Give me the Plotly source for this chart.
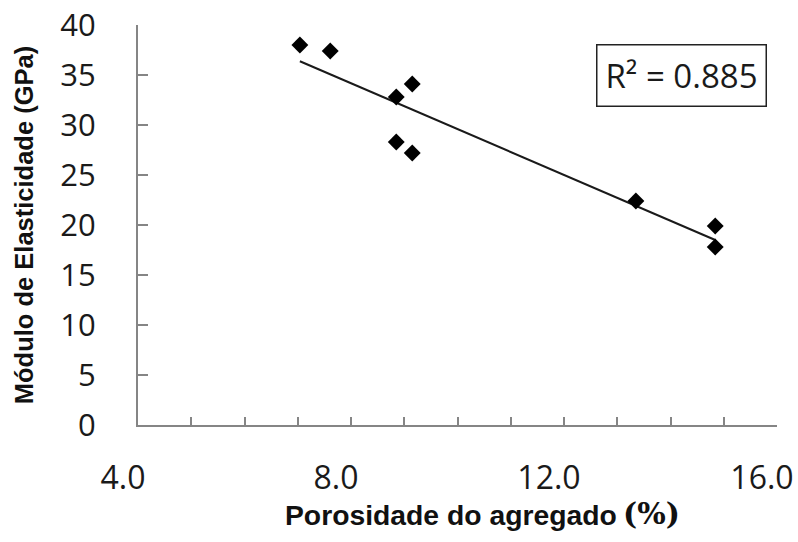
import numpy as np
import plotly.graph_objects as go

# Data
porosidade = [7.04, 7.61, 8.85, 9.15, 8.85, 9.15, 13.35, 14.84, 14.84]
modulo = [38.0, 37.4, 32.8, 34.1, 28.3, 27.2, 22.4, 19.9, 17.8]
x_ticks = [4.0, 8.0, 12.0, 16.0]
y_ticks = [0, 5, 10, 15, 20, 25, 30, 35, 40]
r2_label = "R² = 0.885"

# Linear trend line (least squares)
slope, intercept = np.polyfit(porosidade, modulo, 1)
x_fit = np.array([min(porosidade), max(porosidade)])
y_fit = slope * x_fit + intercept

TICK_FONT = "Open Sans, sans-serif"
AXIS_COLOR = "#858585"

fig = go.Figure()
fig.add_trace(go.Scatter(x=x_fit, y=y_fit, mode="lines",
                         line=dict(color="#1a1a1a", width=2), showlegend=False,
                         hoverinfo="skip"))
fig.add_trace(go.Scatter(x=porosidade, y=modulo, mode="markers",
                         marker=dict(symbol="diamond", size=13, color="black"),
                         showlegend=False))

fig.update_layout(
    width=798, height=542,
    margin=dict(l=138, r=21, t=25, b=117, autoexpand=False),
    paper_bgcolor="white", plot_bgcolor="white",
    xaxis=dict(range=[4, 16], tickvals=x_ticks, tickformat=".1f",
               showgrid=False, zeroline=False, automargin=False,
               showline=True, linecolor=AXIS_COLOR, linewidth=2,
               ticks="inside", ticklen=8, tickwidth=1.5, tickcolor=AXIS_COLOR,
               minor=dict(dtick=1, ticks="inside", ticklen=8, tickwidth=1.5,
                          tickcolor=AXIS_COLOR, showgrid=False),
               tickfont=dict(family=TICK_FONT, size=32, color="#1a1a1a"),
               ticklabelstandoff=24, ticklabelshift=-15),
    yaxis=dict(range=[0, 40], tickvals=y_ticks,
               showgrid=False, zeroline=False, automargin=False,
               showline=True, linecolor=AXIS_COLOR, linewidth=2,
               ticks="inside", ticklen=10, tickwidth=1.5, tickcolor=AXIS_COLOR,
               tickfont=dict(family=TICK_FONT, size=31, color="#1a1a1a"),
               ticklabelstandoff=34),
    annotations=[
        dict(text=r2_label, xref="paper", yref="paper", x=0.851, y=0.8725,
             xanchor="center", yanchor="middle", showarrow=False,
             font=dict(family=TICK_FONT, size=33, color="#1a1a1a"),
             bordercolor="#222222", borderwidth=1.5, borderpad=2,
             width=164, height=56, bgcolor="white"),
        dict(text="<b>Módulo de Elasticidade (GPa)</b>", xref="paper", yref="paper",
             x=-0.178, y=0.5, textangle=-90, showarrow=False,
             xanchor="center", yanchor="middle",
             font=dict(family="Liberation Sans, Arial, sans-serif", size=25.5, color="#111111")),
        dict(text="<b>Porosidade do agregado</b>",
             xref="paper", yref="paper", x=(283 - 138) / 639, y=-0.225, showarrow=False,
             xanchor="left", yanchor="middle",
             font=dict(family="Liberation Sans, Arial, sans-serif", size=28.3, color="#111111")),
        dict(text="<b>(%)</b>",
             xref="paper", yref="paper", x=(682 - 138) / 639, y=-0.222, showarrow=False,
             xanchor="right", yanchor="middle",
             font=dict(family="DejaVu Serif, Liberation Serif, serif", size=30, color="#111111")),
    ],
)

fig.write_html("out.html")
